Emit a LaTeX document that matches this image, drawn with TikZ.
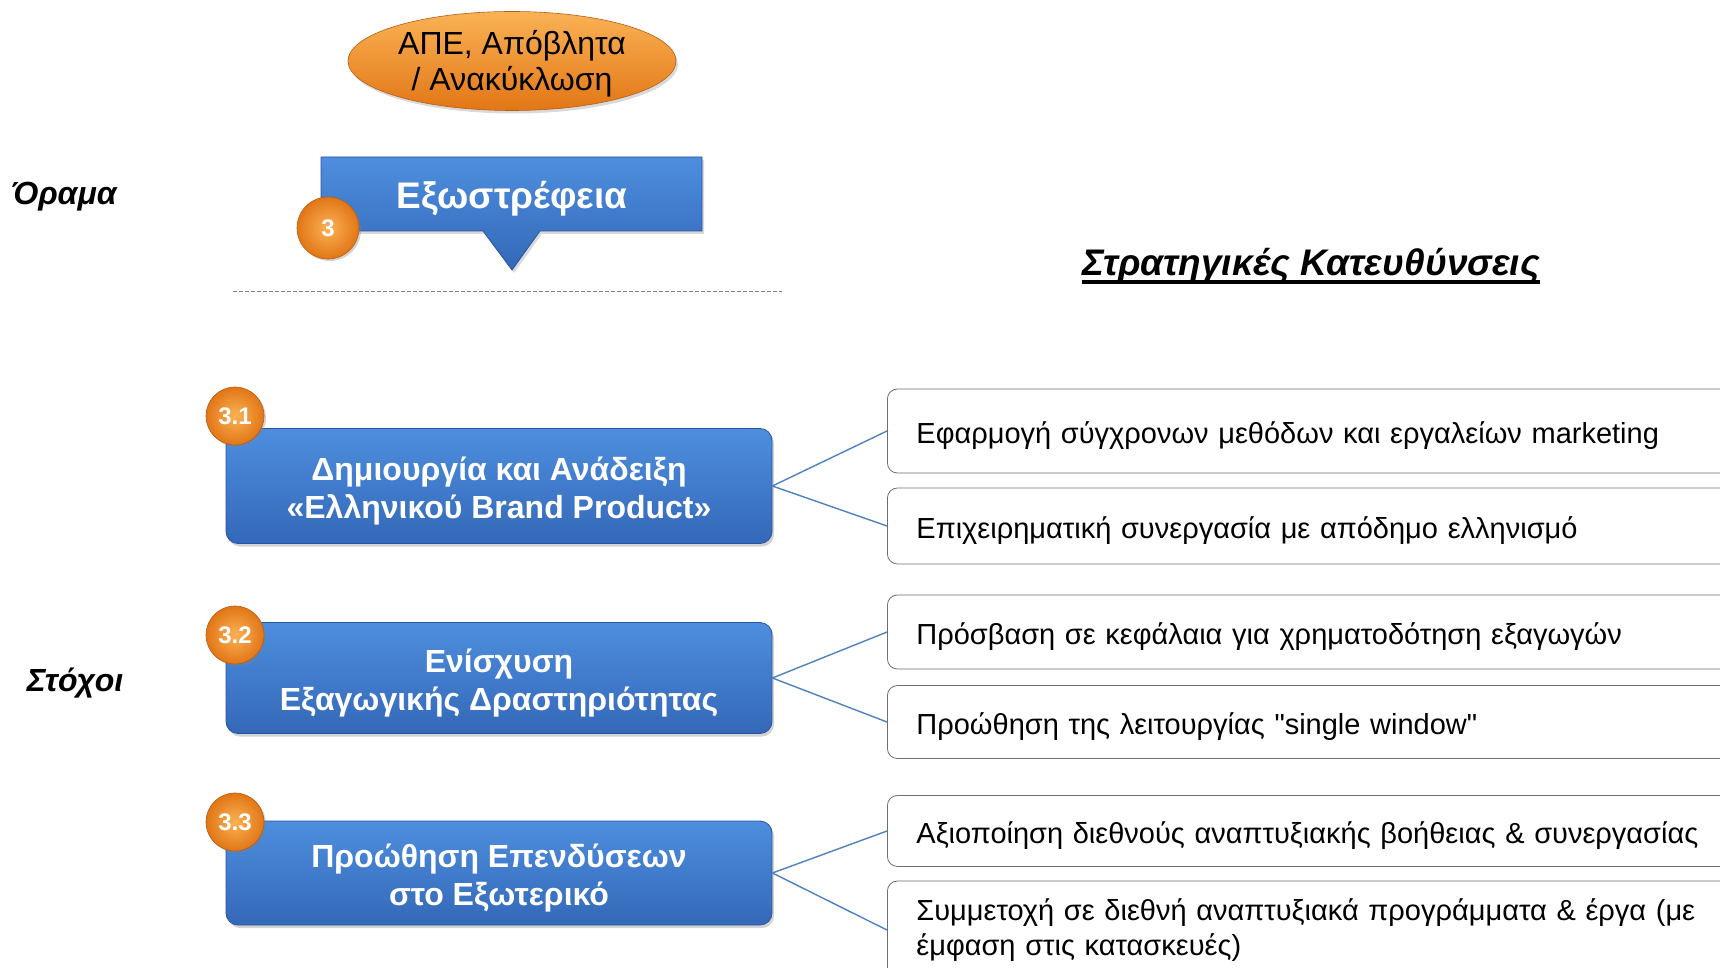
\documentclass[tikz,border=0pt]{standalone}
\usepackage{fontspec}
\setmainfont{Liberation Sans}[Ligatures=TeXOff]
\usetikzlibrary{shadows,shapes.geometric}
\definecolor{bluetop}{RGB}{78,142,222}
\definecolor{bluebot}{RGB}{52,104,184}
\definecolor{blueedge}{RGB}{40,85,160}
\definecolor{linkblue}{RGB}{79,129,189}
\definecolor{orlight}{RGB}{250,178,85}
\definecolor{ordark}{RGB}{226,118,22}
\definecolor{boxgray}{RGB}{110,110,110}
\begin{document}
\begin{tikzpicture}[x=1pt,y=-1pt,
  goal/.style={rectangle, rounded corners=12pt, minimum width=546pt, top color=bluetop, bottom color=bluebot, draw=blueedge, line width=0.8pt, drop shadow={opacity=0.35, shadow xshift=2pt, shadow yshift=-3pt}},
  goaltext/.style={text=white, font=\fontsize{32}{38}\selectfont\bfseries, align=center},
  badge/.style={circle, minimum size=58pt, inner sep=0pt, inner color=orlight, outer color=ordark, draw=ordark!80!black, line width=0.6pt, text=white, font=\fontsize{24}{24}\selectfont\bfseries, drop shadow={opacity=0.35, shadow xshift=2pt, shadow yshift=-2pt}},
  dirbox/.style={rectangle, rounded corners=10pt, draw=boxgray, line width=0.8pt, anchor=west, align=left, text width=800pt, inner xsep=29pt, inner ysep=0pt, font=\fontsize{29}{35}\selectfont},
  oneline/.style={text height=30pt, text depth=6pt},
  link/.style={draw=linkblue, line width=1.4pt},
  heading/.style={font=\fontsize{32}{32}\selectfont\bfseries\itshape}
]
\useasboundingbox (0,0) rectangle (1720,968);
\clip (0,0) rectangle (1720,968);

% top ellipse
\node[ellipse, minimum width=328pt, minimum height=99pt, top color=orlight, bottom color=ordark, draw=ordark!80!black, line width=0.6pt, drop shadow={opacity=0.3, shadow xshift=2pt, shadow yshift=-3pt}] (ape) at (512,61) {};
\node[align=center, font=\fontsize{32}{36}\selectfont] (apet) at (512,64) {ΑΠΕ, Απόβλητα\\/ Ανακύκλωση};

% vision box with pointer
\path[top color=bluetop, bottom color=bluebot, draw=blueedge, line width=0.8pt, drop shadow={opacity=0.3, shadow xshift=2pt, shadow yshift=-3pt}]
  (321,157) -- (702,157) -- (702,231) -- (540,231) -- (512,270) -- (483,231) -- (321,231) -- cycle;
\node[text=white, font=\fontsize{37}{37}\selectfont\bfseries] (ex) at (512,199) {Εξωστρέφεια};
\node[badge, minimum size=62pt] (b0) at (328,228) {3};

\draw[gray, dash pattern=on 4pt off 2pt, line width=0.8pt] (233,291) -- (782,291);

% headings
\node[heading] (orama) at (64,197) {Όραμα};
\node[heading] (stoxoi) at (75,683) {Στόχοι};
\node[font=\fontsize{37}{37}\selectfont\bfseries\itshape, anchor=base, inner sep=0pt] (strat) at (1311,275) {Στρατηγικές Κατευθύνσεις};
\draw[line width=4pt] ([yshift=-7pt]strat.base west) -- ([yshift=-7pt]strat.base east);

% goals
\node[goal, minimum height=115pt] (g1) at (499,486) {};
\node[goaltext] (g1t) at ([yshift=-5pt]g1.center) {Δημιουργία και Ανάδειξη\\«Ελληνικού Brand Product»};
\node[goal, minimum height=111pt] (g2) at (499,678) {};
\node[goaltext] (g2t) at ([yshift=-5pt]g2.center) {Ενίσχυση\\Εξαγωγικής Δραστηριότητας};
\node[goal, minimum height=104pt] (g3) at (499,873) {};
\node[goaltext] (g3t) at ([yshift=-5pt]g3.center) {Προώθηση Επενδύσεων\\στο Εξωτερικό};

\node[badge] (b1) at (235,416) {3.1};
\node[badge] (b2) at (235,635) {3.2};
\node[badge] (b3) at (235,822) {3.3};

% strategic directions
\node[dirbox, oneline, minimum height=84pt] (r1) at (887,431) {Εφαρμογή σύγχρονων μεθόδων και εργαλείων marketing};
\node[dirbox, oneline, minimum height=76pt] (r2) at (887,526) {Επιχειρηματική συνεργασία με απόδημο ελληνισμό};
\node[dirbox, oneline, minimum height=74pt] (r3) at (887,632) {Πρόσβαση σε κεφάλαια για χρηματοδότηση εξαγωγών};
\node[dirbox, oneline, minimum height=73pt] (r4) at (887,722) {Προώθηση της λειτουργίας "single window"};
\node[dirbox, oneline, minimum height=71pt] (r5) at (887,831) {Αξιοποίηση διεθνούς αναπτυξιακής βοήθειας \& συνεργασίας};
\node[dirbox, minimum height=98pt] (r6) at (887,930) {Συμμετοχή σε διεθνή αναπτυξιακά προγράμματα \& έργα (με\\έμφαση στις κατασκευές)};

% connectors
\draw[link] (g1.east) -- (r1.west);
\draw[link] (g1.east) -- (r2.west);
\draw[link] (g2.east) -- (r3.west);
\draw[link] (g2.east) -- (r4.west);
\draw[link] (g3.east) -- (r5.west);
\draw[link] (g3.east) -- (r6.west);
\end{tikzpicture}
\end{document}
